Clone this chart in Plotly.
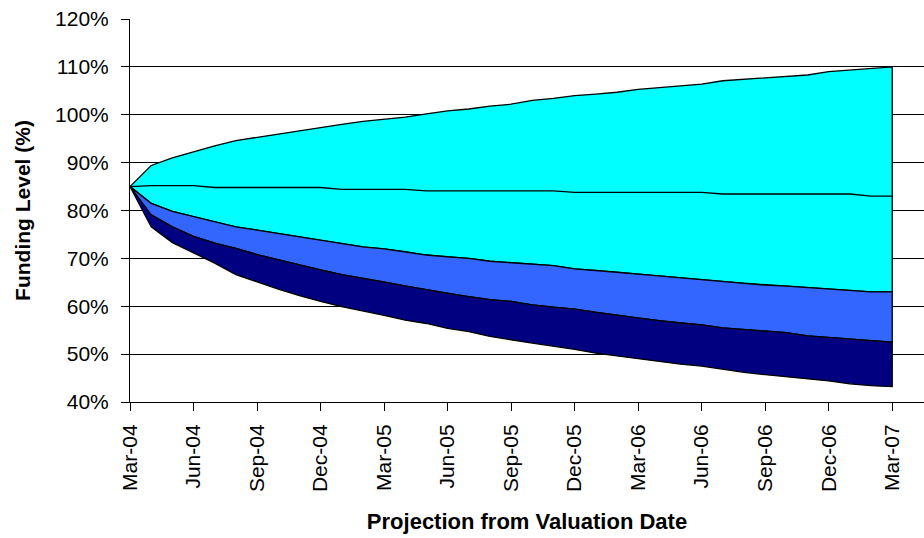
import pandas as pd
import plotly.graph_objects as go

months = [d.strftime("%b-%y") for d in pd.date_range("2004-03-01", "2007-03-01", freq="MS")]
x_tick_labels = months[::3]
y_tick_values = [40, 50, 60, 70, 80, 90, 100, 110, 120]
y_tick_labels = ["40%", "50%", "60%", "70%", "80%", "90%", "100%", "110%", "120%"]

upper = [85.0, 89.4, 91.0, 92.3, 93.5, 94.6, 95.3, 96.0, 96.7, 97.4, 98.0, 98.6, 99.1,
         99.5, 100.2, 100.8, 101.2, 101.8, 102.2, 103.0, 103.4, 104.0, 104.3, 104.7, 105.3,
         105.7, 106.0, 106.4, 107.1, 107.4, 107.7, 108.0, 108.3, 109.0, 109.3, 109.7, 110.0]
median = [85.0, 85.2, 85.2, 85.2, 84.8, 84.8, 84.8, 84.8, 84.8, 84.8, 84.4, 84.4, 84.4,
          84.4, 84.1, 84.1, 84.1, 84.1, 84.1, 84.1, 84.1, 83.8, 83.8, 83.8, 83.8,
          83.8, 83.8, 83.8, 83.45, 83.45, 83.45, 83.45, 83.45, 83.45, 83.45, 83.0, 83.0]
lower_cyan = [85.0, 81.5, 79.8, 78.7, 77.6, 76.6, 75.9, 75.2, 74.5, 73.8, 73.1, 72.4, 72.0,
              71.4, 70.7, 70.3, 70.0, 69.4, 69.1, 68.8, 68.5, 67.8, 67.5, 67.1, 66.7,
              66.3, 66.0, 65.6, 65.2, 64.8, 64.4, 64.2, 63.9, 63.6, 63.3, 63.0, 63.0]
lower_blue = [85.0, 79.1, 76.6, 74.6, 73.2, 72.1, 70.8, 69.7, 68.6, 67.6, 66.6, 65.8, 65.1,
              64.2, 63.4, 62.7, 62.0, 61.4, 61.0, 60.3, 59.8, 59.4, 58.7, 58.1, 57.5,
              57.0, 56.5, 56.1, 55.5, 55.1, 54.8, 54.5, 53.8, 53.5, 53.1, 52.8, 52.5]
lower_navy = [85.0, 76.6, 73.3, 71.1, 69.0, 66.6, 65.1, 63.6, 62.2, 61.0, 59.9, 59.0, 58.1,
              57.1, 56.4, 55.4, 54.7, 53.7, 53.0, 52.3, 51.6, 51.0, 50.2, 49.7, 49.1,
              48.5, 47.9, 47.5, 46.8, 46.2, 45.7, 45.2, 44.8, 44.4, 43.8, 43.4, 43.2]

idx = list(range(len(months)))
bands = [
    (upper, lower_cyan, "#00FFFF"),
    (lower_cyan, lower_blue, "#3366FF"),
    (lower_blue, lower_navy, "#000080"),
]

fig = go.Figure()
for top, bot, col in bands:
    xs = idx + idx[::-1]
    ys = top + bot[::-1]
    fig.add_trace(go.Scatter(x=xs, y=ys, fill="toself", fillcolor=col, mode="lines",
                             line=dict(color="black", width=1.3), hoverinfo="skip",
                             showlegend=False))
fig.add_trace(go.Scatter(x=idx, y=median, mode="lines", line=dict(color="black", width=1.3),
                         showlegend=False))

font_family = "Liberation Sans, Arial, sans-serif"
fig.update_layout(
    width=924, height=538,
    margin=dict(l=130, r=0, t=19, b=136, autoexpand=False),
    paper_bgcolor="white", plot_bgcolor="white",
    font=dict(family=font_family, size=21, color="black"),
    xaxis=dict(
        range=[0, 37.5],
        tickmode="array",
        tickvals=idx[::3],
        ticktext=x_tick_labels,
        tickangle=-90,
        tickfont=dict(size=21),
        ticks="outside", ticklen=8, tickcolor="black",
        ticklabelstandoff=5,
        showgrid=False, zeroline=False,
        showline=True, linecolor="black", linewidth=1,
        automargin=False,
        title=dict(text="<b>Projection from Valuation Date</b>", font=dict(size=22), standoff=22),
    ),
    yaxis=dict(
        range=[40, 120],
        tickmode="array",
        tickvals=y_tick_values,
        ticktext=y_tick_labels,
        tickfont=dict(size=21),
        ticks="outside", ticklen=8, tickcolor="black",
        ticklabelstandoff=8,
        showgrid=True, gridcolor="black", gridwidth=1,
        zeroline=False,
        showline=True, linecolor="black", linewidth=1,
        automargin=False,
        title=dict(text="<b>Funding Level (%)</b>", font=dict(size=21), standoff=18),
    ),
)
fig.write_html("out.html", config={"displayModeBar": False},
               post_script="document.body.style.margin='0';")
